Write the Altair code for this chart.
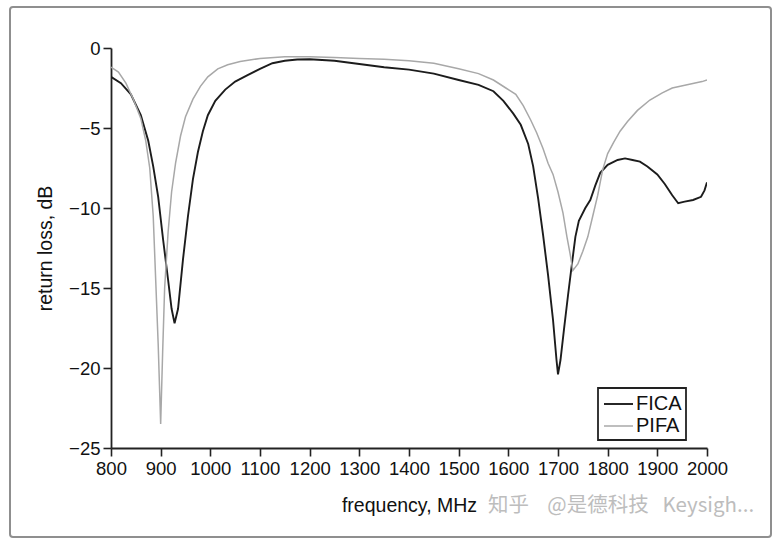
import altair as alt
import pandas as pd

# ---- data ----
fica_freq = [800, 820, 840, 860, 875, 885, 895, 905, 915, 922, 928, 935, 945, 955, 965, 975, 985,
             995, 1010, 1030, 1050, 1075, 1100, 1125, 1150, 1175, 1200, 1250, 1300, 1350, 1400,
             1450, 1500, 1540, 1570, 1590, 1610, 1625, 1640, 1650, 1660, 1670, 1680, 1690, 1697,
             1700, 1705, 1712, 1720, 1728, 1735, 1742, 1755, 1765, 1775, 1785, 1800, 1820, 1835,
             1850, 1865, 1880, 1900, 1915, 1930, 1942, 1955, 1972, 1988, 1995, 2000]
fica_db = [-1.8, -2.2, -2.9, -4.2, -5.8, -7.4, -9.3, -12.0, -14.5, -16.3, -17.2, -16.3, -13.2,
           -10.5, -8.2, -6.5, -5.2, -4.2, -3.3, -2.6, -2.1, -1.7, -1.3, -0.95, -0.8, -0.72, -0.7,
           -0.8, -1.0, -1.2, -1.35, -1.6, -2.0, -2.3, -2.7, -3.3, -4.1, -4.8, -6.0, -7.4, -9.4,
           -11.7, -14.2, -17.0, -19.5, -20.4, -19.5, -17.6, -15.5, -13.5, -11.8, -10.8, -10.0,
           -9.5, -8.6, -7.8, -7.3, -7.0, -6.9, -7.0, -7.1, -7.4, -7.9, -8.5, -9.2, -9.7, -9.6,
           -9.5, -9.3, -8.9, -8.4]

pifa_freq = [800, 815, 830, 845, 860, 870, 878, 885, 890, 895, 900, 904, 908, 915, 922, 930, 940,
             950, 965, 980, 995, 1015, 1035, 1060, 1100, 1150, 1200, 1250, 1300, 1350, 1400, 1450,
             1500, 1540, 1570, 1595, 1615, 1630, 1645, 1657, 1670, 1680, 1690, 1700, 1710, 1718,
             1724, 1730, 1740, 1750, 1760, 1770, 1780, 1790, 1800, 1812, 1825, 1840, 1860, 1885,
             1910, 1930, 1960, 1990, 2000]
pifa_db = [-1.2, -1.5, -2.2, -3.2, -4.4, -5.8, -7.5, -10.5, -14.5, -18.5, -23.5, -19.0, -15.0,
           -11.5, -9.0, -7.2, -5.5, -4.3, -3.2, -2.4, -1.8, -1.3, -1.05, -0.85, -0.65, -0.55,
           -0.55, -0.6, -0.65, -0.7, -0.8, -0.95, -1.3, -1.6, -2.0, -2.5, -2.9, -3.6, -4.5, -5.3,
           -6.3, -7.2, -7.9, -9.0, -10.3, -11.8, -12.8, -13.9, -13.5, -12.7, -11.8, -10.5, -9.2,
           -7.6, -6.6, -5.9, -5.2, -4.6, -3.9, -3.25, -2.8, -2.5, -2.3, -2.1, -2.0]

series_names = ["FICA", "PIFA"]
x_ticks = list(range(800, 2001, 100))
y_ticks = [0, -5, -10, -15, -20, -25]
watermark = "知乎\u00a0\u00a0\u00a0\u00a0@是德科技\u00a0\u00a0\u00a0Keysigh..."

df = pd.concat([
    pd.DataFrame({"freq": fica_freq, "db": fica_db, "series": "FICA", "order": range(len(fica_freq))}),
    pd.DataFrame({"freq": pifa_freq, "db": pifa_db, "series": "PIFA", "order": range(len(pifa_freq))}),
])

FONT = "Liberation Sans"

lines = alt.Chart(df).mark_line(clip=True).encode(
    x=alt.X("freq:Q", scale=alt.Scale(domain=[800, 2000], nice=False, zero=False),
            axis=alt.Axis(values=x_ticks, format="d", title="frequency, MHz", grid=False,
                          labelOverlap=False, labelFlush=False,
                          titleX=298, titleY=57, titleBaseline="middle", titleAlign="center")),
    y=alt.Y("db:Q", scale=alt.Scale(domain=[-25, 0], nice=False, zero=False),
            axis=alt.Axis(values=y_ticks, title="return loss, dB", grid=False,
                          labelOverlap=False, labelFlush=False,
                          titleX=-66, titleY=200, titleBaseline="middle", titleAlign="center",
                          titleAngle=-90)),
    color=alt.Color("series:N", scale=alt.Scale(domain=series_names, range=["#1c1c1c", "#a8a8a8"]),
                    legend=alt.Legend(title=None, orient="none", legendX=487, legendY=340,
                                      symbolType="M-0.91,0H1.73", symbolSize=484,
                                      symbolStrokeWidth=1.8,
                                      strokeColor="#222222", padding=4, rowPadding=0,
                                      labelFont=FONT, labelFontSize=20, labelColor="#111111",
                                      labelOffset=10)),
    strokeWidth=alt.StrokeWidth("series:N", scale=alt.Scale(domain=series_names, range=[1.9, 1.5]),
                                legend=None),
    order="order:Q",
)

frame_df = pd.DataFrame({"k": [0]})
frame = alt.Chart(frame_df).mark_rect(filled=False, stroke="#8f8f8f", strokeWidth=2,
                                      cornerRadius=3, clip=False).encode(
    x=alt.value(-101), x2=alt.value(660), y=alt.value(-41), y2=alt.value(489)
)

wm = alt.Chart(pd.DataFrame({"t": [watermark]})).mark_text(
    align="left", baseline="middle", font="Noto Sans CJK SC", fontSize=20.5,
    color="#bdbdbd", clip=False
).encode(x=alt.value(377), y=alt.value(458), text="t:N")

chart = alt.layer(frame, lines, wm).properties(
    width=596, height=400,
    autosize=alt.AutoSizeParams(type="none"),
    padding={"left": 111, "top": 48, "right": 68, "bottom": 95},
    background="white",
).configure_view(stroke=None).configure_axis(
    labelFont=FONT, labelFontSize=18.5, labelColor="#111111", labelPadding=3,
    titleFont=FONT, titleFontSize=19.5, titleFontWeight="normal", titleColor="#111111",
    domainColor="#222222", domainWidth=1.8, tickColor="#222222", tickWidth=1.6, tickSize=8,
).configure_legend(strokeWidth=1.8)

chart.save("out.html", embed_options={"renderer": "svg", "actions": False})
